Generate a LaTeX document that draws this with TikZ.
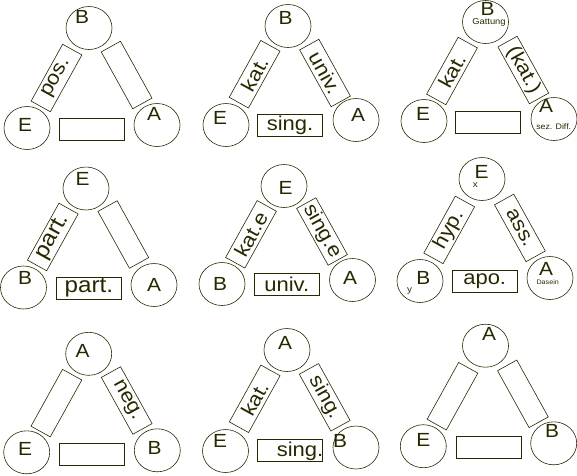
\documentclass[tikz,border=0pt]{standalone}
\usepackage{fontspec}
\setmainfont{Liberation Sans}[FakeStretch=1.1]
\usetikzlibrary{shapes.geometric}
\definecolor{ink}{RGB}{40,40,0}

\begin{document}
\begin{tikzpicture}[x=1pt,y=-1pt,
    vert/.style={draw=ink,ellipse,line width=0.6pt,minimum width=46pt,minimum height=43pt,inner sep=0pt},
    bar/.style={draw=ink,rectangle,line width=0.6pt,minimum width=65pt,minimum height=22pt,inner sep=0pt,
      text=ink,font=\fontsize{20}{20}\selectfont},
    lbar/.style={bar,rotate=61},
    rbar/.style={bar,rotate=-61},
    lett/.style={text=ink,inner sep=0pt,font=\fontsize{19}{19}\selectfont},
    small/.style={text=ink,inner sep=0pt,font=\fontsize{#1}{#1}\selectfont}]

    \useasboundingbox (0,0) rectangle (577,475);

    % 上段左
    \node [vert] (b1) at (89,28) {};
    \node [vert] (e1) at (27,128) {};
    \node [vert] (a1) at (157,125) {};
    \node [lett] at (82,17) {B};
    \node [lett] at (25,125) {E};
    \node [lett] at (154,114) {A};
    \node [lbar] (l1) at (56.5,78) {pos.};
    \node [rbar] (r1) at (126.6,75) {};
    \node [bar] (u1) at (92,129) {};

    % 上段中
    \node [vert] (b2) at (288,26) {};
    \node [vert] (e2) at (226,125) {};
    \node [vert] (a2) at (356,120) {};
    \node [lett] at (285.5,18) {B};
    \node [lett] at (220,117.5) {E};
    \node [lett] at (358,115) {A};
    \node [lbar] (l2) at (254.6,74.2) {kat.};
    \node [rbar] (r2) at (325,73) {univ.};
    \node [bar] (u2) at (290,125) {sing.};

    % 上段右
    \node [vert] (b3) at (485.5,22) {};
    \node [vert] (e3) at (424,121) {};
    \node [vert] (a3) at (554,119) {};
    \node [lett] at (487.5,9) {B};
    \node [small=8.5] at (489,22) {Gattung};
    \node [lett] at (423,114) {E};
    \node [lett] at (546,106) {A};
    \node [small=8] at (553.7,127) {sez. Diff.};
    \node [lbar] (l3) at (452,71) {kat.};
    \node [rbar] (r3) at (523.3,70) {(kat.)};
    \node [bar] (u3) at (488,122) {};

    % 中段左
    \node [vert] (e4) at (86,188.5) {};
    \node [vert] (b4) at (23.5,287.5) {};
    \node [vert] (a4) at (154,285) {};
    \node [lett] at (82.7,179) {E};
    \node [lett] at (25,278) {B};
    \node [lett] at (154,285) {A};
    \node [lbar,font=\fontsize{22}{22}\selectfont] (l4) at (52.8,237) {part.};
    \node [rbar] (r4) at (123.3,234.5) {};
    \node [bar,font=\fontsize{22}{22}\selectfont] (u4) at (88.8,287.8) {part.};

    % 中段中
    \node [vert] (e5) at (284,186) {};
    \node [vert] (b5) at (222,284) {};
    \node [vert] (a5) at (352.5,280) {};
    \node [lett] at (285.5,188) {E};
    \node [lett] at (220,284) {B};
    \node [lett] at (350,277.5) {A};
    \node [lbar] (l5) at (251,234.3) {kat.e};
    \node [rbar] (r5) at (322,231.5) {sing.e};
    \node [bar] (u5) at (286.7,284.2) {univ.};

    % 中段右
    \node [vert] (e6) at (482,179) {};
    \node [vert] (b6) at (420,281) {};
    \node [vert] (a6) at (550,278) {};
    \node [lett] at (481.7,172) {E};
    \node [small=9] at (475.3,185.3) {x};
    \node [lett] at (423.3,277.5) {B};
    \node [small=9] at (409.5,290.8) {y};
    \node [lett] at (546,268.8) {A};
    \node [small=6.5] at (547.7,281.7) {Dasein};
    \node [lbar] (l6) at (449.2,229.9) {hyp.};
    \node [rbar] (r6) at (519.9,227.9) {ass.};
    \node [bar] (u6) at (484.7,281.2) {apo.};

    % 下段左
    \node [vert] (a7) at (88.7,353.8) {};
    \node [vert] (e7) at (26.7,452.3) {};
    \node [vert] (b7) at (157.3,450.3) {};
    \node [lett] at (82.5,350.8) {A};
    \node [lett] at (25,449.3) {E};
    \node [lett] at (154.5,448) {B};
    \node [lbar] (l7) at (56.4,403.1) {};
    \node [rbar] (r7) at (126.7,400.5) {neg.};
    \node [bar] (u7) at (91.8,453.8) {};

    % 下段中
    \node [vert] (a8) at (287,350) {};
    \node [vert] (e8) at (225.5,451) {};
    \node [vert] (b8) at (356,447.5) {};
    \node [lett] at (285,342.5) {A};
    \node [lett] at (220,441) {E};
    \node [lett] at (340,441) {B};
    \node [lbar] (l8) at (254.7,398.8) {kat.};
    \node [rbar] (r8) at (324.7,397.3) {sing.};
    \node [bar] (u8) at (290.2,450.3) {};
    \node [lett,font=\fontsize{20}{20}\selectfont] at (300,451.7) {sing.};

    % 下段右
    \node [vert] (a9) at (485.5,345.7) {};
    \node [vert] (e9) at (423.3,446.2) {};
    \node [vert] (b9) at (553.7,443.3) {};
    \node [lett] at (489,333.8) {A};
    \node [lett] at (423.3,440) {E};
    \node [lett] at (552,430.8) {B};
    \node [lbar] (l9) at (452.5,396.2) {};
    \node [rbar] (r9) at (522.9,393.8) {};
    \node [bar] (u9) at (488.3,447.2) {};
\end{tikzpicture}
\end{document}
